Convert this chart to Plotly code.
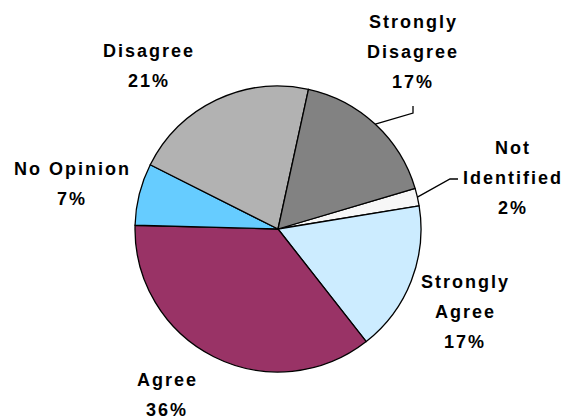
import math
import plotly.graph_objects as go

# Survey responses, listed clockwise starting from "Not Identified"
labels = ["Not Identified", "Strongly Agree", "Agree", "No Opinion", "Disagree", "Strongly Disagree"]
values = [2, 17, 36, 7, 21, 17]
colors = ["#F7F7F7", "#CCECFF", "#993366", "#66CCFF", "#B2B2B2", "#828282"]

# Words of each category label, one entry per text line
label_words = {
    "Not Identified": ["Not", "Identified"],
    "Strongly Agree": ["Strongly", "Agree"],
    "Agree": ["Agree"],
    "No Opinion": ["No Opinion"],
    "Disagree": ["Disagree"],
    "Strongly Disagree": ["Strongly", "Disagree"],
}

W, H = 567, 419
CX, CY, R = 278, 229, 143          # pie centre and radius in pixels
ROTATION = 73.5                     # start angle of the first slice, clockwise from 12 o'clock
LINE_GAP = 30                       # vertical distance between label lines

# label block placement: centre x, y of first line (pixels)
label_pos = {
    "Not Identified": (513, 148),
    "Strongly Agree": (465, 282),
    "Agree": (167, 380),
    "No Opinion": (72, 169),
    "Disagree": (149, 51),
    "Strongly Disagree": (413, 22),
}

# elbow leader lines: (elbow point, end point) in pixels
leaders = {
    "Strongly Disagree": [(413, 113), (413, 106)],
    "Not Identified": [(450, 179), (458, 179)],
}


def px_x(x):
    return x / W


def px_y(y):
    return 1 - y / H


fig = go.Figure(
    go.Pie(
        labels=labels,
        values=values,
        sort=False,
        direction="clockwise",
        rotation=ROTATION,
        marker=dict(colors=colors, line=dict(color="#000000", width=1.3)),
        textinfo="none",
        hoverinfo="label+percent",
        showlegend=False,
        domain=dict(
            x=[px_x(CX - R), px_x(CX + R)],
            y=[px_y(CY + R), px_y(CY - R)],
        ),
    )
)

font = dict(family="Liberation Sans, Arial, sans-serif", size=18, color="#000000")
annotations = []
shapes = []
total = sum(values)
start = ROTATION
for lab, val in zip(labels, values):
    span = 360 * val / total
    mid = math.radians(start + span / 2)
    start += span
    lines = label_words[lab] + [f"{round(100 * val / total)}%"]
    x0, y0 = label_pos[lab]
    for i, line in enumerate(lines):
        annotations.append(
            dict(
                x=px_x(x0), y=px_y(y0 + i * LINE_GAP),
                xref="paper", yref="paper",
                xanchor="center", yanchor="middle",
                text=f'<b><span style="letter-spacing:2px">{line}</span></b>',
                showarrow=False, font=font,
            )
        )
    if lab in leaders:
        ax = CX + R * math.sin(mid)
        ay = CY - R * math.cos(mid)
        pts = [(ax, ay)] + leaders[lab]
        path = "M " + " L ".join(f"{px_x(p[0]):.5f},{px_y(p[1]):.5f}" for p in pts)
        shapes.append(
            dict(type="path", path=path, xref="paper", yref="paper",
                 line=dict(color="#000000", width=1.3))
        )

fig.update_layout(
    width=W, height=H,
    margin=dict(l=0, r=0, t=0, b=0),
    paper_bgcolor="#FFFFFF",
    plot_bgcolor="#FFFFFF",
    annotations=annotations,
    shapes=shapes,
)

fig.write_html("out.html")
